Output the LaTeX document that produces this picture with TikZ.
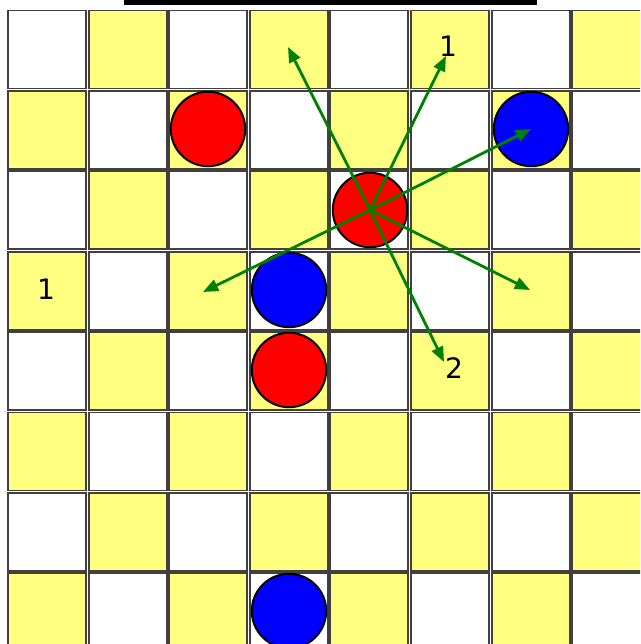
\documentclass[tikz,border=0pt]{standalone}
\usepackage{fontspec}
\setsansfont{DejaVu Sans}
\usetikzlibrary{arrows.meta}
\definecolor{boardyellow}{RGB}{255,255,128}
\definecolor{movegreen}{RGB}{0,128,0}
\tikzset{
  square/.style={draw=black!75, line width=1.4pt},
  piece/.style={circle, draw=black, line width=1.4pt, inner sep=0pt, minimum size=1.86cm},
  move/.style={movegreen, line width=2pt, -{Triangle[length=0.38cm, width=0.3cm]}},
  stepnum/.style={font=\sffamily\fontsize{20}{24}\selectfont, inner sep=0pt}
}
\begin{document}
\begin{tikzpicture}[x=0.025cm, y=-0.025cm]
\useasboundingbox (0,0) rectangle (640,644);
\clip (0,0) rectangle (640,644);
% board, pitch 80.6 px, cut off at right and bottom
\foreach \c in {0,...,7} { \foreach \r in {0,...,7} {
  \pgfmathtruncatemacro\s{\c+\r}
  \ifodd\s \def\sqcol{boardyellow}\else \def\sqcol{white}\fi
  \draw[square, fill=\sqcol] (8+80.6*\c,10.5+80.4*\r) rectangle ++(78,78);
} }
\fill (124,0) rectangle (537,5);
% pieces
\node[piece, fill=red] (redA) at (208,129) {};
\node[piece, fill=blue] (blueA) at (531,129) {};
\node[piece, fill=red] (redB) at (370,210) {};
\node[piece, fill=blue] (blueB) at (289,290) {};
\node[piece, fill=red] (redC) at (289,370) {};
\node[piece, fill=blue] (blueC) at (289,611) {};
% labels
\node[stepnum] (oneTop) at (448,46) {1};
\node[stepnum] (oneLeft) at (46,289) {1};
\node[stepnum] (two) at (454,368) {2};
% ends of the moves
\coordinate (upLeft) at (288,47);
\coordinate (upRight) at (446,56);
\coordinate (downLeft) at (203,292);
\coordinate (downRight) at (530,290);
\coordinate (down) at (444,362);
\foreach \t in {upLeft,upRight,downLeft,downRight,down,blueA.center} { \draw[move] (redB.center) -- (\t); }
\end{tikzpicture}
\end{document}
